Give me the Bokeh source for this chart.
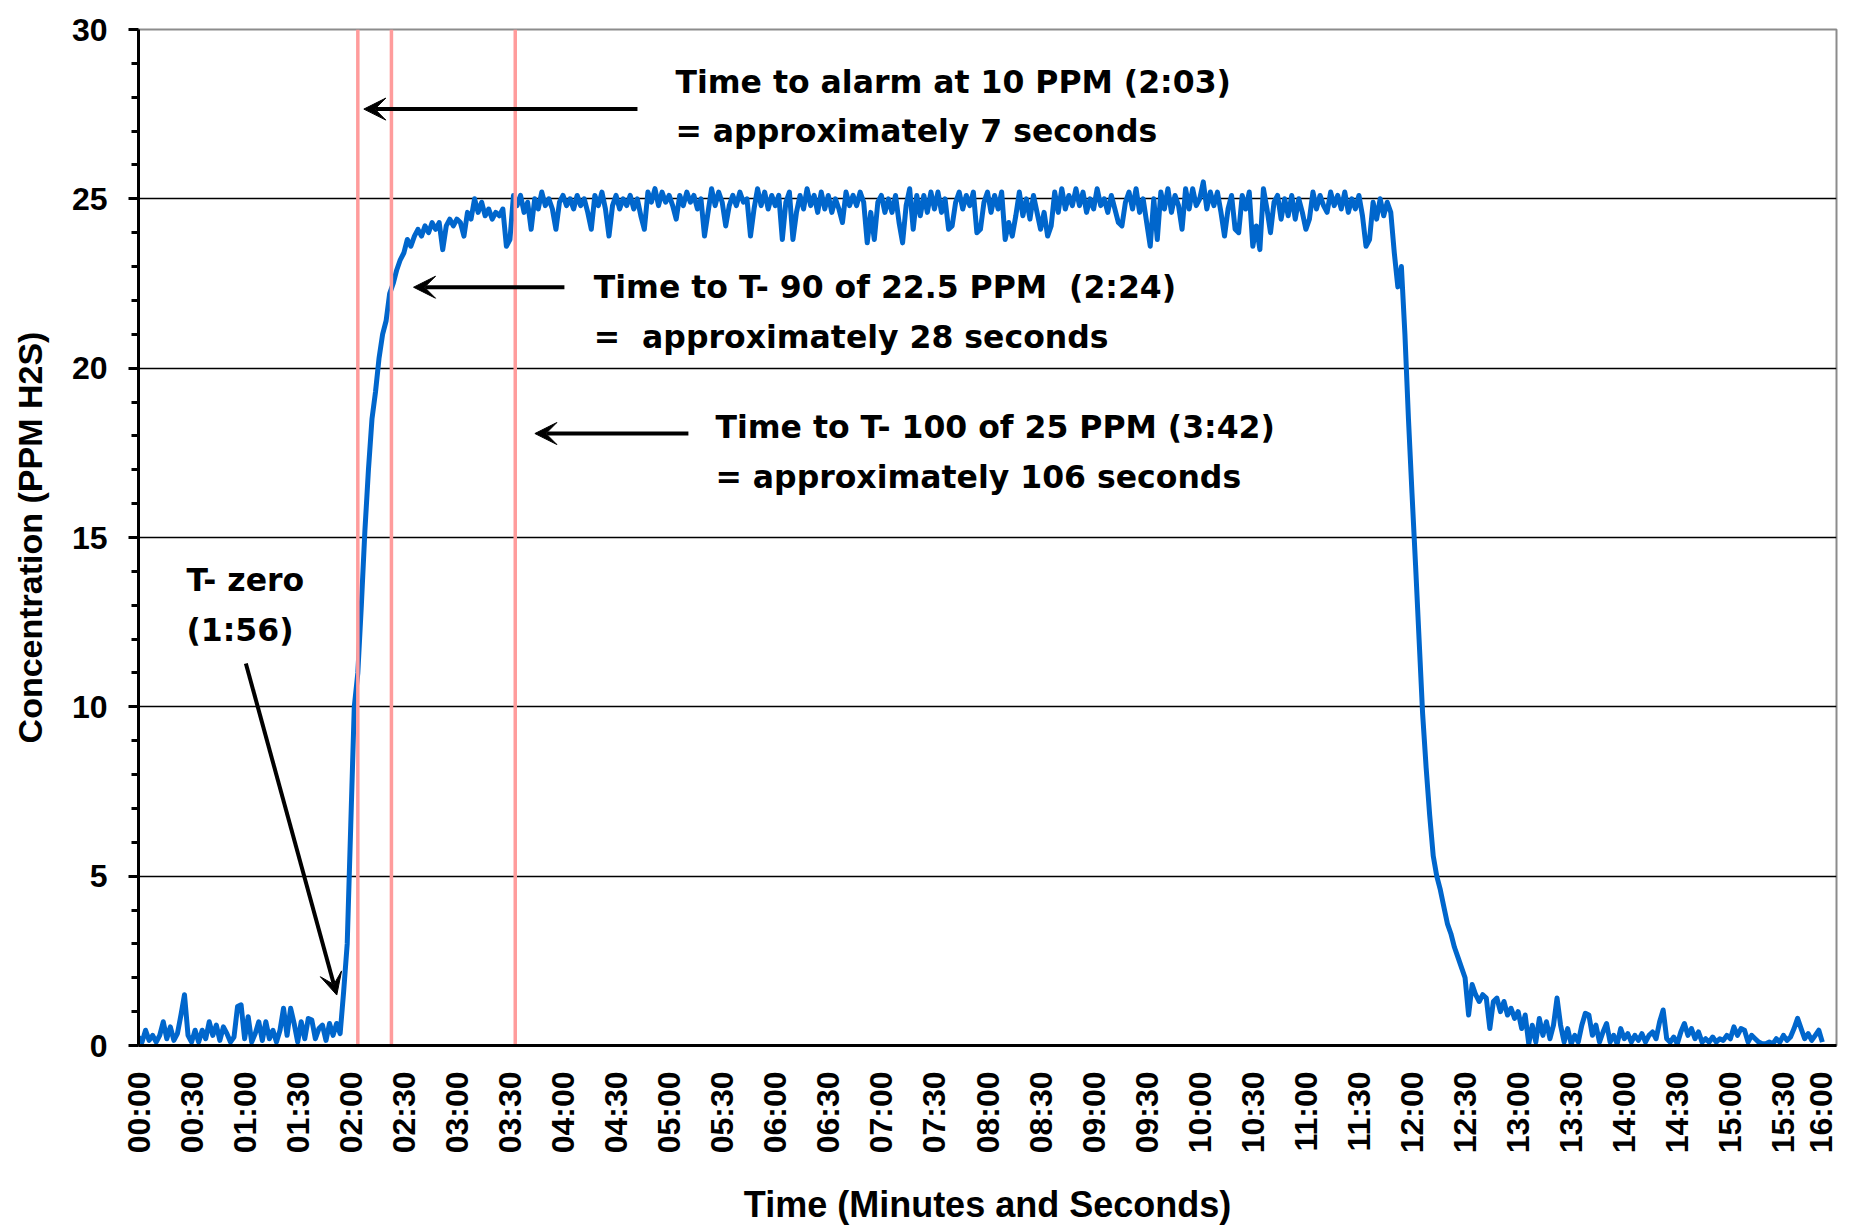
import math
from bokeh.plotting import figure
from bokeh.models import Range1d, FixedTicker, Arrow, VeeHead, ColumnDataSource
from bokeh.core.properties import value
from bokeh.embed import file_html
from bokeh.resources import INLINE

# ---------------- data ----------------
SAMPLE_STEP_S = 2  # one reading every 2 seconds

baseline_ppm = [
    0.25, 0.1, 0.45, 0.15, 0.3, 0.1, 0.3, 0.7, 0.2, 0.55, 0.15, 0.35, 0.9, 1.5, 0.3,
    0.1, 0.45, 0.1, 0.45, 0.2, 0.7, 0.3, 0.6, 0.15, 0.55, 0.35, 0.1, 0.25, 1.15, 1.2,
    0.2, 0.85, 0.1, 0.35, 0.7, 0.15, 0.7, 0.2, 0.45, 0.1, 0.45, 1.1, 0.3, 1.1, 0.65,
    0.1, 0.7, 0.2, 0.8, 0.75, 0.2, 0.5, 0.6, 0.15, 0.65, 0.3, 0.65, 0.35, 1.6, 3.0,
]
rise_ppm = [
    6.5, 10.0, 11.0, 13.0, 15.2, 17.0, 18.5, 19.3, 20.3, 21.0, 21.4, 22.2, 22.5, 22.9, 23.2,
    23.4, 23.8, 23.6, 23.9, 24.1, 23.9, 24.2, 24.0, 24.3, 24.1, 24.3, 23.5, 24.2, 24.4, 24.2,
]
plateau_ppm = [
    24.4, 24.3, 23.9, 24.6, 24.4, 25.0, 24.6, 24.9, 24.5, 24.7, 24.4, 24.6, 24.5, 24.7, 23.6,
    23.8, 25.1, 24.8, 25.1, 24.6, 24.9, 24.1, 25.0, 24.7, 25.2, 24.8, 25.0, 24.7, 24.1, 24.9,
    25.1, 24.8, 25.0, 24.7, 25.1, 24.8, 25.0, 24.6, 24.1, 25.1, 24.8, 25.2, 24.7, 23.9, 24.8,
    25.1, 24.7, 25.0, 24.8, 25.1, 24.7, 25.0, 24.5, 24.1, 25.2, 24.9, 25.3, 24.8, 25.2, 24.9,
    25.1, 24.8, 24.4, 25.1, 24.8, 25.2, 24.9, 25.1, 24.7, 25.0, 23.9, 24.6, 25.3, 24.8, 25.2,
    24.9, 24.2, 24.8, 25.1, 24.8, 25.2, 24.9, 25.0, 23.9, 24.7, 25.3, 24.8, 25.2, 24.7, 25.1,
    24.8, 25.1, 23.8, 24.9, 25.2, 23.8, 24.6, 25.1, 24.7, 25.3, 24.8, 25.1, 24.6, 25.2, 24.7,
    25.1, 24.6, 25.0, 24.7, 24.3, 25.2, 24.8, 25.1, 24.8, 25.2, 24.9, 23.7, 24.6, 23.8, 24.9,
    25.1, 24.6, 25.0, 24.6, 25.1, 24.3, 23.7, 24.8, 25.3, 24.1, 25.1, 24.5, 25.1, 24.6, 25.2,
    24.7, 25.2, 24.6, 25.0, 24.1, 24.2, 24.9, 25.2, 24.7, 25.1, 24.8, 25.2, 24.0, 24.1, 24.9,
    25.2, 24.6, 25.1, 24.7, 25.2, 23.8, 24.3, 23.9, 24.5, 25.2, 24.5, 25.0, 24.4, 25.1, 24.6,
    24.1, 24.6, 23.9, 24.2, 25.2, 24.6, 25.3, 24.7, 25.1, 24.8, 25.3, 24.8, 25.2, 24.6, 25.0,
    24.7, 25.3, 24.8, 25.0, 24.6, 25.1, 24.7, 24.3, 24.2, 24.9, 25.2, 24.7, 25.3, 24.6, 25.0,
    24.3, 23.6, 25.0, 23.8, 25.2, 24.7, 25.3, 24.6, 25.1, 24.8, 24.1, 25.3, 24.7, 25.3, 24.8,
    25.0, 25.5, 24.7, 25.2, 24.8, 25.2, 24.6, 23.9, 24.7, 25.1, 24.1, 24.0, 25.1, 24.7, 25.2,
    23.6, 24.2, 23.5, 25.3, 24.7, 24.0, 24.9, 25.1, 24.4, 25.0, 24.5, 25.1, 24.4, 25.0, 24.6,
    24.1, 24.4, 25.2, 24.7, 25.1, 24.8, 24.6, 25.2, 24.8, 25.1, 24.7, 25.2, 24.6, 25.0, 24.7,
    25.1, 24.5, 23.6, 23.8, 24.9, 24.4, 25.0, 24.5, 24.9, 24.6,
]
fall_ppm = [
    23.4, 22.4, 23.0, 21.0, 18.5,
    16.3, 14.2, 12.0, 9.8, 8.2, 6.8, 5.6, 5.0, 4.6, 4.1, 3.6, 3.3, 2.9, 2.6, 2.3,
]
tail_ppm = [
    2.0, 0.9, 1.8, 1.5, 1.3, 1.5, 1.4, 0.5, 1.3, 1.4, 1.0, 1.3, 0.9, 1.1, 0.8,
    1.0, 0.5, 0.9, 0.05, 0.6, 0.1, 0.8, 0.3, 0.7, 0.2, 0.6, 1.4, 0.6, 0.1, 0.5,
    0.05, 0.3, 0.1, 0.6, 0.95, 0.9, 0.3, 0.6, 0.1, 0.4, 0.65, 0.1, 0.3, 0.05, 0.5,
    0.2, 0.35, 0.1, 0.3, 0.15, 0.35, 0.1, 0.3, 0.4, 0.2, 0.7, 1.05, 0.2, 0.1, 0.25,
    0.05, 0.4, 0.65, 0.3, 0.5, 0.2, 0.4, 0.1, 0.2, 0.1, 0.25, 0.1, 0.2, 0.15, 0.3,
    0.2, 0.55, 0.3, 0.5, 0.45, 0.1, 0.3, 0.2, 0.1, 0.05, 0.05, 0.1, 0.05, 0.2, 0.1,
    0.3, 0.15, 0.25, 0.5, 0.8, 0.5, 0.2, 0.35, 0.15, 0.3, 0.45, 0.1,
]
concentration_ppm = baseline_ppm + rise_ppm + plateau_ppm + fall_ppm + tail_ppm
time_s = [i * SAMPLE_STEP_S for i in range(len(concentration_ppm))]

x_tick_seconds = [i * 30 for i in range(33)]
x_tick_labels = ["00:00", "00:30", "01:00", "01:30", "02:00", "02:30", "03:00", "03:30",
                 "04:00", "04:30", "05:00", "05:30", "06:00", "06:30", "07:00", "07:30",
                 "08:00", "08:30", "09:00", "09:30", "10:00", "10:30", "11:00", "11:30",
                 "12:00", "12:30", "13:00", "13:30", "14:00", "14:30", "15:00", "15:30",
                 "16:00"]
y_major_ticks = [0, 5, 10, 15, 20, 25, 30]
y_minor_ticks = [1, 2, 3, 4, 6, 7, 8, 9, 11, 12, 13, 14, 16, 17, 18, 19, 21, 22, 23, 24, 26, 27, 28, 29]
y_grid_ticks = [5, 10, 15, 20, 25]

# vertical marker lines (seconds)
event_seconds = [124, 143, 213]

# annotation texts (x in seconds, y in ppm at text middle)
note_x = [303.6, 303.6, 257.4, 257.4, 326.2, 326.2, 27.1, 27.1]
note_y = [28.45, 27.0, 22.39, 20.93, 18.25, 16.80, 13.75, 12.27]
note_text = [
    "Time to alarm at 10 PPM (2:03)",
    "= approximately 7 seconds",
    "Time to T- 90 of 22.5 PPM \u00a0(2:24)",
    "= \u00a0approximately 28 seconds",
    "Time to T- 100 of 25 PPM (3:42)",
    "= approximately 106 seconds",
    "T- zero",
    "(1:56)",
]

# arrows: tail -> tip
arrow_x0 = [282.1, 240.8, 310.9, 60.7]
arrow_y0 = [27.65, 22.39, 18.07, 11.28]
arrow_x1 = [127.4, 155.5, 224.1, 112.1]
arrow_y1 = [27.65, 22.39, 18.07, 1.49]

# ---------------- figure ----------------
AXIS_FONT = "Liberation Sans"
NOTE_FONT = "DejaVu Sans"

p = figure(frame_width=1698, frame_height=1016, output_backend="svg", toolbar_location=None,
           x_range=Range1d(0, 960), y_range=Range1d(0, 30))
p.min_border_left = 138
p.min_border_right = 2
p.min_border_top = 29
p.min_border_bottom = 180
p.background_fill_color = "white"
p.border_fill_color = "white"
p.outline_line_color = "#8c8c8c"
p.outline_line_width = 2

# grid
p.xgrid.visible = False
p.ygrid.ticker = FixedTicker(ticks=y_grid_ticks)
p.ygrid.grid_line_color = "black"
p.ygrid.grid_line_width = 1.6

# x axis
p.xaxis.ticker = FixedTicker(ticks=x_tick_seconds)
p.xaxis.major_label_overrides = {t: lab for t, lab in zip(x_tick_seconds, x_tick_labels)}
p.xaxis.major_label_orientation = math.pi / 2
p.xaxis.major_label_text_font = AXIS_FONT
p.xaxis.major_label_text_font_style = "bold"
p.xaxis.major_label_text_font_size = "32px"
p.xaxis.major_label_text_color = "black"
p.xaxis.major_label_standoff = 26
p.xaxis.major_tick_out = 0
p.xaxis.major_tick_in = 0
p.xaxis.minor_tick_out = 0
p.xaxis.minor_tick_in = 0
p.xaxis.axis_line_color = "black"
p.xaxis.axis_line_width = 3
p.xaxis.axis_label = "Time (Minutes and Seconds)"
p.xaxis.axis_label_text_font = AXIS_FONT
p.xaxis.axis_label_text_font_style = "bold"
p.xaxis.axis_label_text_font_size = "36px"
p.xaxis.axis_label_text_color = "black"
p.xaxis.axis_label_standoff = 28

# y axis
p.yaxis.ticker = FixedTicker(ticks=y_major_ticks, minor_ticks=y_minor_ticks)
p.yaxis.major_label_text_font = AXIS_FONT
p.yaxis.major_label_text_font_style = "bold"
p.yaxis.major_label_text_font_size = "32px"
p.yaxis.major_label_text_color = "black"
p.yaxis.major_label_standoff = 21
p.yaxis.major_tick_out = 10
p.yaxis.major_tick_in = 0
p.yaxis.minor_tick_out = 7
p.yaxis.minor_tick_in = 0
p.yaxis.major_tick_line_width = 3
p.yaxis.minor_tick_line_width = 3
p.yaxis.major_tick_line_color = "black"
p.yaxis.minor_tick_line_color = "black"
p.yaxis.axis_line_color = "black"
p.yaxis.axis_line_width = 3
p.yaxis.axis_label = "Concentration (PPM H2S)"
p.yaxis.axis_label_text_font = AXIS_FONT
p.yaxis.axis_label_text_font_style = "bold"
p.yaxis.axis_label_text_font_size = "34px"
p.yaxis.axis_label_text_color = "black"
p.yaxis.axis_label_standoff = 20

# data line
p.line(time_s, concentration_ppm, line_color="#0066CC", line_width=5, line_join="round")

# red marker lines
ev_src = ColumnDataSource(dict(x=event_seconds,
                               y0=[p.y_range.start] * len(event_seconds),
                               y1=[p.y_range.end] * len(event_seconds)))
p.segment(x0="x", y0="y0", x1="x", y1="y1", source=ev_src, line_color="#FF9C9C", line_width=3.5)

# arrows
arr_src = ColumnDataSource(dict(x0=arrow_x0, y0=arrow_y0, x1=arrow_x1, y1=arrow_y1))
p.add_layout(Arrow(end=VeeHead(size=22, fill_color="black", line_color="black", line_width=1),
                   x_start="x0", y_start="y0", x_end="x1", y_end="y1",
                   source=arr_src, line_color="black", line_width=4))

# annotation texts
note_src = ColumnDataSource(dict(x=note_x, y=note_y, t=note_text))
p.text(x="x", y="y", text="t", source=note_src, text_font=value(NOTE_FONT),
       text_font_style="bold", text_font_size="31.5px", text_color="black",
       text_align="left", text_baseline="middle")

open("out.html", "w").write(file_html(p, INLINE))
